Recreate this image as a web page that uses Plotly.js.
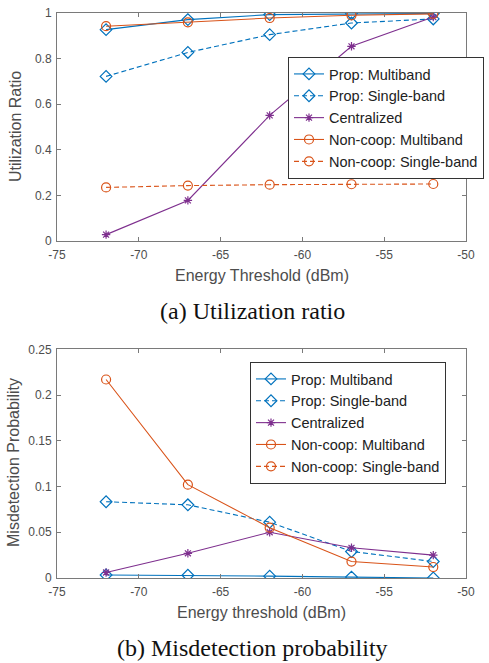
<!DOCTYPE html>
<html><head><meta charset="utf-8">
<script src="https://cdn.plot.ly/plotly-3.0.1.min.js"></script>
<style>html,body{margin:0;padding:0;background:#fff}#c{width:489px;height:663px}</style>
</head><body><div id="c"></div>
<script>
const thresholds = [-72, -67, -62, -57, -52];
const names = ["Prop: Multiband", "Prop: Single-band", "Centralized", "Non-coop: Multiband", "Non-coop: Single-band"];
const xTickVals = [-75, -70, -65, -60, -55, -50];
const xTickText = ["-75", "-70", "-65", "-60", "-55", "-50"];
const yTicksA = [0, 0.2, 0.4, 0.6, 0.8, 1];
const yTicksB = [0, 0.05, 0.1, 0.15, 0.2, 0.25];
// (a) Utilization ratio
const utilPropMulti = [0.927, 0.971, 0.993, 0.997, 0.998];
const utilPropSingle = [0.722, 0.827, 0.905, 0.956, 0.974];
const utilCentral = [0.028, 0.178, 0.551, 0.854, 0.982];
const utilNoncoopMulti = [0.942, 0.959, 0.978, 0.990, 0.996];
const utilNoncoopSingle = [0.235, 0.243, 0.247, 0.249, 0.250];
// (b) Misdetection probability
const misPropMulti = [0.0033, 0.0030, 0.0020, 0.0010, 0.0000];
const misPropSingle = [0.0834, 0.0800, 0.0610, 0.0290, 0.0180];
const misCentral = [0.0060, 0.0270, 0.0500, 0.0330, 0.0250];
const misNoncoopMulti = [0.217, 0.102, 0.055, 0.018, 0.012];
const misNoncoopSingle = [null, null, null, null, null];

const blue = '#0072BD', orange = '#D95319', purple = '#7E2F8E';
const styles = [
  {color: blue, dash: 'solid', symbol: 'diamond-open', size: 9},
  {color: blue, dash: '5px,3px', symbol: 'diamond-open', size: 9},
  {color: purple, dash: 'solid', symbol: 'asterisk-open', size: 7},
  {color: orange, dash: 'solid', symbol: 'circle-open', size: 9},
  {color: orange, dash: '5px,3px', symbol: 'circle-open', size: 9}
];
function mk(ys, i, xa, ya, leg) {
  const s = styles[i];
  return {x: thresholds, y: ys, name: names[i], type: 'scatter', mode: 'lines+markers',
    xaxis: xa, yaxis: ya, legend: leg,
    line: {color: s.color, width: 1.1, dash: s.dash},
    marker: {symbol: s.symbol, size: s.size, color: s.color, line: {color: s.color, width: 1.2}}};
}
const seriesA = [utilPropMulti, utilPropSingle, utilCentral, utilNoncoopMulti, utilNoncoopSingle];
const seriesB = [misPropMulti, misPropSingle, misCentral, misNoncoopMulti, misNoncoopSingle];
const data = [];
seriesA.forEach((ys, i) => data.push(mk(ys, i, 'x', 'y', 'legend')));
seriesB.forEach((ys, i) => data.push(mk(ys, i, 'x2', 'y2', 'legend2')));

const W = 489, H = 663;
const axC = '#7a7a7a', txC = '#4d4d4d';
const sans = 'Liberation Sans, Arial, sans-serif';
const serif = 'Liberation Serif, Times New Roman, serif';
const xd = [57 / W, 466 / W];
const common = {showgrid: false, zeroline: false, showline: true, linecolor: axC, linewidth: 1,
  mirror: 'ticks', ticks: 'inside', ticklen: 4, tickcolor: axC,
  tickfont: {family: sans, size: 12, color: txC}};
const xCommon = Object.assign({}, common, {domain: xd, range: [-75, -50], tickvals: xTickVals, ticktext: xTickText, ticklabelstandoff: 3});
const legBase = {xanchor: 'left', yanchor: 'top', bgcolor: '#fff', bordercolor: '#333', borderwidth: 1,
  font: {family: sans, size: 14.5, color: '#222'}, tracegroupgap: 0, itemwidth: 30};
const layout = {
  width: W, height: H, margin: {l: 0, r: 0, t: 0, b: 0},
  paper_bgcolor: '#fff', plot_bgcolor: '#fff', showlegend: true,
  xaxis: Object.assign({}, xCommon, {anchor: 'y'}),
  yaxis: Object.assign({}, common, {domain: [1 - 241 / H, 1 - 13 / H], range: [0, 1], tickvals: yTicksA, anchor: 'x', ticklabelstandoff: 2}),
  xaxis2: Object.assign({}, xCommon, {anchor: 'y2'}),
  yaxis2: Object.assign({}, common, {domain: [1 - 578 / H, 1 - 349.3 / H], range: [0, 0.25], tickvals: yTicksB, anchor: 'x2', ticklabelstandoff: 2}),
  legend: Object.assign({}, legBase, {x: 288 / W, y: 1 - 57 / H}),
  legend2: Object.assign({}, legBase, {x: 250 / W, y: 1 - 362 / H}),
  annotations: [
    {text: 'Energy Threshold (dBm)', xref: 'paper', yref: 'paper', x: 261.5 / W, y: 1 - 275 / H, showarrow: false,
      font: {family: sans, size: 16, color: txC}, xanchor: 'center', yanchor: 'middle'},
    {text: 'Utilization Ratio', xref: 'paper', yref: 'paper', x: 16 / W, y: 1 - 127 / H, showarrow: false, textangle: -90,
      font: {family: sans, size: 16, color: txC}, xanchor: 'center', yanchor: 'middle'},
    {text: '(a) Utilization ratio', xref: 'paper', yref: 'paper', x: 252 / W, y: 1 - 311 / H, showarrow: false,
      font: {family: serif, size: 24, color: '#111'}, xanchor: 'center', yanchor: 'middle'},
    {text: 'Energy threshold (dBm)', xref: 'paper', yref: 'paper', x: 261.5 / W, y: 1 - 612 / H, showarrow: false,
      font: {family: sans, size: 16, color: txC}, xanchor: 'center', yanchor: 'middle'},
    {text: 'Misdetection Probability', xref: 'paper', yref: 'paper', x: 13 / W, y: 1 - 463 / H, showarrow: false, textangle: -90,
      font: {family: sans, size: 16, color: txC}, xanchor: 'center', yanchor: 'middle'},
    {text: '(b) Misdetection probability', xref: 'paper', yref: 'paper', x: 252 / W, y: 1 - 648 / H, showarrow: false,
      font: {family: serif, size: 24, color: '#111'}, xanchor: 'center', yanchor: 'middle'}
  ]
};
Plotly.newPlot('c', data, layout, {staticPlot: true, displayModeBar: false});
</script></body></html>
